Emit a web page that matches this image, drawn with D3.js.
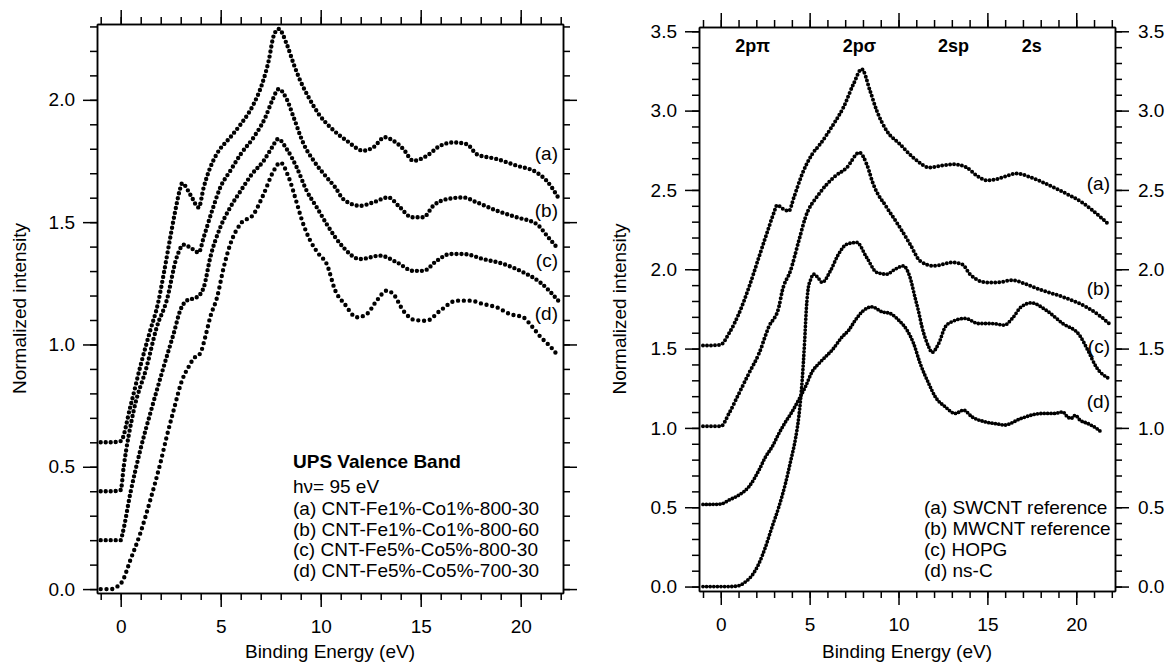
<!DOCTYPE html>
<html>
<head>
<meta charset="utf-8">
<script src="https://cdn.jsdelivr.net/npm/d3@7"></script>
<style>
  body { margin: 0; background: #fff; }
  text { font-family: "Liberation Sans", Arial, sans-serif; }
</style>
</head>
<body>
<div id="chart"></div>
<script>
// ---------- left panel : CNT-Fe/Co samples ----------
var energyL_a = [-1.0, -0.5, 0.0, 0.48, 0.98, 1.45, 1.87, 2.15, 2.48, 2.73, 2.95, 3.07, 3.5, 3.9, 4.15, 4.48, 4.8, 5.48, 6.0, 6.65, 7.07, 7.4, 7.65, 7.9, 8.3, 8.65, 8.98, 9.4, 9.9, 10.48, 11.3, 12.13, 12.63, 13.2, 13.63, 14.13, 14.63, 15.3, 15.97, 16.63, 17.3, 17.8, 18.8, 19.8, 20.8, 21.3, 21.88];
var intensityL_a = [0.6, 0.6, 0.605, 0.745, 0.91, 1.05, 1.17, 1.288, 1.438, 1.547, 1.63, 1.659, 1.61, 1.56, 1.642, 1.724, 1.778, 1.847, 1.90, 1.983, 2.065, 2.16, 2.262, 2.29, 2.228, 2.146, 2.078, 2.01, 1.942, 1.888, 1.833, 1.792, 1.806, 1.847, 1.833, 1.799, 1.751, 1.771, 1.812, 1.826, 1.819, 1.778, 1.758, 1.731, 1.703, 1.669, 1.60];

var energyL_b = [-1.0, -0.5, 0.0, 0.15, 0.65, 1.3, 1.8, 2.3, 2.8, 3.15, 3.5, 3.9, 4.15, 4.57, 4.98, 5.48, 6.0, 6.65, 7.23, 7.57, 7.9, 8.3, 8.65, 9.15, 9.65, 10.3, 10.73, 11.13, 11.97, 12.63, 13.38, 13.97, 14.55, 15.13, 15.63, 16.3, 17.13, 17.8, 18.8, 19.8, 20.8, 21.38, 21.88];
var intensityL_b = [0.4, 0.4, 0.405, 0.5, 0.73, 0.909, 1.07, 1.18, 1.356, 1.408, 1.395, 1.376, 1.438, 1.547, 1.642, 1.71, 1.778, 1.847, 1.928, 1.996, 2.044, 2.003, 1.928, 1.819, 1.751, 1.683, 1.642, 1.594, 1.567, 1.581, 1.601, 1.56, 1.52, 1.52, 1.567, 1.594, 1.601, 1.581, 1.547, 1.52, 1.492, 1.438, 1.39];

var energyL_c = [-1.0, -0.5, 0.0, 0.1, 0.48, 0.98, 1.57, 2.15, 2.65, 2.98, 3.3, 3.8, 4.15, 4.48, 4.98, 5.48, 6.0, 6.57, 7.15, 7.57, 7.87, 8.3, 8.8, 9.3, 9.8, 10.3, 10.73, 11.13, 11.97, 12.97, 13.8, 14.63, 15.13, 15.8, 16.47, 17.13, 18.13, 19.13, 20.13, 20.97, 21.88];
var intensityL_c = [0.2, 0.2, 0.2, 0.23, 0.391, 0.568, 0.745, 0.909, 1.045, 1.14, 1.179, 1.193, 1.233, 1.356, 1.479, 1.561, 1.628, 1.697, 1.751, 1.806, 1.84, 1.799, 1.724, 1.628, 1.561, 1.492, 1.438, 1.397, 1.349, 1.363, 1.336, 1.301, 1.301, 1.342, 1.37, 1.37, 1.349, 1.329, 1.295, 1.254, 1.179];

var energyL_d = [-1.0, -0.5, -0.18, 0.07, 0.48, 0.98, 1.48, 1.98, 2.3, 2.65, 3.07, 3.4, 3.65, 3.98, 4.23, 4.48, 4.82, 5.15, 5.48, 5.98, 6.65, 7.15, 7.65, 7.98, 8.4, 8.82, 9.07, 9.48, 9.9, 10.3, 10.73, 11.2, 11.8, 12.3, 12.8, 13.3, 13.63, 14.13, 14.7, 15.3, 15.97, 16.8, 17.47, 18.13, 18.8, 19.47, 20.13, 20.5, 21.0, 21.5, 21.9];
var intensityL_d = [0.0, 0.0, 0.01, 0.03, 0.118, 0.228, 0.364, 0.514, 0.623, 0.732, 0.854, 0.909, 0.943, 0.964, 1.031, 1.113, 1.193, 1.315, 1.41, 1.492, 1.533, 1.615, 1.71, 1.744, 1.683, 1.574, 1.506, 1.424, 1.37, 1.329, 1.22, 1.165, 1.111, 1.124, 1.179, 1.22, 1.206, 1.138, 1.10, 1.097, 1.138, 1.179, 1.179, 1.165, 1.152, 1.124, 1.111, 1.08, 1.03, 0.99, 0.95];

// ---------- right panel : carbon references ----------
var energyR_a = [-1.0, -0.5, 0.0, 0.46, 1.02, 1.58, 2.14, 2.7, 3.0, 3.17, 3.5, 3.83, 4.11, 4.58, 5.14, 5.6, 6.34, 6.9, 7.46, 7.93, 8.4, 8.78, 9.34, 10.08, 10.83, 11.77, 12.5, 13.08, 13.83, 14.4, 15.0, 15.52, 16.0, 16.66, 17.3, 18.06, 19.24, 20.42, 21.35, 21.87];
var intensityR_a = [1.52, 1.52, 1.525, 1.595, 1.72, 1.885, 2.074, 2.263, 2.36, 2.404, 2.38, 2.368, 2.452, 2.6, 2.725, 2.79, 2.914, 3.02, 3.166, 3.261, 3.124, 2.998, 2.872, 2.788, 2.704, 2.641, 2.655, 2.662, 2.641, 2.59, 2.56, 2.568, 2.585, 2.604, 2.585, 2.551, 2.488, 2.414, 2.33, 2.278];

var energyR_b = [-1.0, -0.5, 0.0, 0.46, 1.02, 1.58, 2.15, 2.7, 3.27, 3.46, 3.92, 4.39, 4.76, 5.52, 6.34, 7.09, 7.8, 8.21, 8.58, 9.34, 10.08, 10.65, 11.21, 11.96, 13.08, 13.6, 14.02, 14.96, 15.52, 16.43, 17.2, 18.06, 19.24, 20.87, 21.4, 21.94];
var intensityR_b = [1.01, 1.01, 1.01, 1.091, 1.217, 1.343, 1.469, 1.637, 1.763, 1.864, 1.99, 2.179, 2.326, 2.473, 2.578, 2.641, 2.736, 2.662, 2.536, 2.389, 2.263, 2.158, 2.053, 2.021, 2.043, 2.03, 1.969, 1.917, 1.917, 1.931, 1.905, 1.868, 1.826, 1.742, 1.70, 1.648];

var energyR_c = [-1.0, -0.5, 0.0, 0.5, 1.0, 1.39, 1.77, 2.15, 2.52, 2.89, 3.27, 3.64, 3.95, 4.2, 4.4, 4.58, 4.72, 4.82, 4.92, 5.04, 5.23, 5.45, 5.7, 6.17, 6.6, 7.09, 7.65, 8.21, 8.78, 9.34, 9.8, 10.27, 10.65, 10.93, 11.12, 11.32, 11.7, 11.88, 12.26, 12.63, 13.0, 13.75, 14.5, 15.25, 15.96, 16.4, 16.9, 17.48, 18.3, 19.24, 20.18, 20.65, 21.12, 21.83];
var intensityR_c = [0, 0, 0, 0, 0.005, 0.03, 0.072, 0.146, 0.251, 0.377, 0.503, 0.65, 0.80, 0.93, 1.08, 1.30, 1.55, 1.76, 1.88, 1.93, 1.969, 1.95, 1.917, 1.99, 2.09, 2.158, 2.169, 2.074, 1.98, 1.969, 2.0, 2.021, 1.948, 1.822, 1.738, 1.637, 1.511, 1.476, 1.532, 1.637, 1.669, 1.69, 1.658, 1.658, 1.648, 1.69, 1.763, 1.788, 1.742, 1.658, 1.585, 1.49, 1.385, 1.312];

var energyR_d = [-1.0, -0.5, 0.0, 0.46, 1.02, 1.58, 2.15, 2.52, 2.89, 3.27, 3.6, 4.0, 4.4, 4.76, 5.14, 5.52, 5.89, 6.26, 6.83, 7.2, 7.57, 7.95, 8.51, 9.07, 9.54, 10.01, 10.48, 10.85, 11.22, 11.7, 12.07, 12.63, 13.19, 13.66, 14.13, 14.88, 15.63, 15.96, 16.9, 18.06, 18.78, 19.24, 19.5, 19.71, 19.95, 20.2, 20.65, 21.1, 21.47];
var intensityR_d = [0.518, 0.518, 0.52, 0.545, 0.577, 0.629, 0.734, 0.818, 0.881, 0.965, 1.03, 1.10, 1.18, 1.259, 1.354, 1.406, 1.448, 1.49, 1.574, 1.616, 1.679, 1.732, 1.763, 1.732, 1.721, 1.679, 1.616, 1.532, 1.406, 1.28, 1.196, 1.133, 1.091, 1.112, 1.07, 1.038, 1.024, 1.018, 1.06, 1.091, 1.091, 1.101, 1.07, 1.06, 1.08, 1.05, 1.028, 1.0, 0.969];

// ---------- labels ----------
var curveTags = ["(a)", "(b)", "(c)", "(d)"];
var tagLevelL = [1.756, 1.523, 1.316, 1.10];
var tagLevelR = [2.498, 1.837, 1.471, 1.125];
var legendTitleL = "UPS Valence Band";
var legendSubL = "h\u03bd= 95 eV";
var legendL = ["(a) CNT-Fe1%-Co1%-800-30", "(b) CNT-Fe1%-Co1%-800-60", "(c) CNT-Fe5%-Co5%-800-30", "(d) CNT-Fe5%-Co5%-700-30"];
var legendR = ["(a) SWCNT reference", "(b) MWCNT reference", "(c) HOPG", "(d) ns-C"];
var peakNames = ["2p\u03c0", "2p\u03c3", "2sp", "2s"];
var peakEnergy = [1.8, 7.8, 13.1, 17.5];
var xMajor = [0, 5, 10, 15, 20];
var yMajorL = [0, 0.5, 1.0, 1.5, 2.0];
var yMajorR = [0, 0.5, 1.0, 1.5, 2.0, 2.5, 3.0, 3.5];

var W = 1175, H = 664;
var svg = d3.select("#chart")
  .append("svg")
    .attr("width", W)
    .attr("height", H);

var fontSize = "19px";

function styleAxis(g) {
  g.attr("font-family", null).attr("font-size", null);
  g.selectAll("path, line").attr("stroke", "#000").attr("stroke-width", 1.5);
  g.selectAll("text").attr("fill", "#000").style("font-size", fontSize);
}

// one side of the frame: minor ticks + major ticks (optionally labelled)
function addSide(axisFn, scale, tx, ty, minorVals, majorVals, fmt, pad) {
  svg.append("g")
      .attr("transform", "translate(" + tx + "," + ty + ")")
      .call(axisFn(scale).tickValues(minorVals).tickSize(7).tickSizeOuter(0).tickFormat(""))
      .call(styleAxis);
  svg.append("g")
      .attr("transform", "translate(" + tx + "," + ty + ")")
      .call(axisFn(scale).tickValues(majorVals).tickSize(14).tickSizeOuter(0)
            .tickPadding(pad).tickFormat(fmt || ""))
      .call(styleAxis);
}

function drawPanel(p) {
  var x = d3.scaleLinear().domain(p.xDomain).range([p.left, p.right]);
  var y = d3.scaleLinear().domain(p.yDomain).range([p.bottom, p.top]);

  var xMinor = d3.range(-1, 23);
  var yMinor = d3.range(0, Math.round(p.yDomain[1] * 10) + 1).map(function(i) { return i / 10; });
  var f1 = d3.format(".1f");

  addSide(d3.axisBottom, x, 0, p.bottom, xMinor, xMajor, d3.format("d"), 13);
  addSide(d3.axisTop, x, 0, p.top, xMinor, xMajor, null, 3);
  addSide(d3.axisLeft, y, p.left, 0, yMinor, p.yMajor, f1, 8);
  addSide(d3.axisRight, y, p.right, 0, yMinor, p.yMajor, p.rightLabels ? f1 : null, 9);

  // axis titles
  svg.append("text")
      .attr("x", (p.left + p.right) / 2)
      .attr("y", 658)
      .attr("text-anchor", "middle")
      .style("font-size", fontSize)
      .text("Binding Energy (eV)");
  svg.append("text")
      .attr("transform", "translate(" + p.yTitleX + "," + ((p.top + p.bottom) / 2) + ") rotate(-90)")
      .attr("text-anchor", "middle")
      .style("font-size", fontSize)
      .text("Normalized intensity");

  // clip + curves
  var clipId = "clip" + p.id;
  svg.append("clipPath").attr("id", clipId)
    .append("rect")
      .attr("x", p.left).attr("y", p.top)
      .attr("width", p.right - p.left).attr("height", p.bottom - p.top);

  var line = d3.line()
      .x(function(d) { return x(d[0]); })
      .y(function(d) { return y(d[1]); })
      .curve(d3.curveMonotoneX);

  svg.append("g")
      .attr("clip-path", "url(#" + clipId + ")")
    .selectAll("path")
    .data(p.series)
    .enter()
    .append("path")
      .attr("d", function(s) { return line(d3.zip(s.e, s.v)); })
      .attr("fill", "none")
      .attr("stroke", "#000")
      .attr("stroke-width", function(s) { return s.w; })
      .attr("stroke-linecap", "round")
      .attr("stroke-dasharray", function(s) { return "0 " + s.gap; });

  // curve tags (a)..(d) at the right end
  svg.append("g")
    .selectAll("text")
    .data(p.tagLevels)
    .enter()
    .append("text")
      .attr("x", p.right - 5)
      .attr("y", function(d) { return y(d); })
      .attr("text-anchor", "end")
      .style("font-size", fontSize)
      .text(function(d, i) { return curveTags[i]; });

  return {x: x, y: y};
}

// left panel
var L = drawPanel({
  id: "L",
  left: 97, right: 563, top: 24, bottom: 593,
  xDomain: [-1.185, 22.115], yDomain: [-0.016, 2.31],
  yMajor: yMajorL, rightLabels: false, yTitleX: 26,
  tagLevels: tagLevelL,
  series: [
    {e: energyL_a, v: intensityL_a, w: 4.4, gap: 5.0},
    {e: energyL_b, v: intensityL_b, w: 4.4, gap: 5.0},
    {e: energyL_c, v: intensityL_c, w: 4.4, gap: 5.0},
    {e: energyL_d, v: intensityL_d, w: 4.4, gap: 5.8}
  ]
});

// right panel
var R = drawPanel({
  id: "R",
  left: 699, right: 1115, top: 27, bottom: 591,
  xDomain: [-1.225, 22.18], yDomain: [-0.028, 3.527],
  yMajor: yMajorR, rightLabels: true, yTitleX: 626,
  tagLevels: tagLevelR,
  series: [
    {e: energyR_a, v: intensityR_a, w: 4.0, gap: 4.0},
    {e: energyR_b, v: intensityR_b, w: 4.0, gap: 4.0},
    {e: energyR_c, v: intensityR_c, w: 3.8, gap: 3.6},
    {e: energyR_d, v: intensityR_d, w: 3.8, gap: 3.4}
  ]
});

// left legend block
var legL = svg.append("g").attr("transform", "translate(293,0)");
legL.append("text")
    .attr("y", 468)
    .style("font-size", fontSize)
    .style("font-weight", "bold")
    .text(legendTitleL);
legL.append("text")
    .attr("y", 493)
    .style("font-size", fontSize)
    .text(legendSubL);
legL.selectAll("text.item")
    .data(legendL)
    .enter()
    .append("text")
      .attr("class", "item")
      .attr("y", function(d, i) { return 515 + i * 20.6; })
      .style("font-size", fontSize)
      .text(function(d) { return d; });

// right legend block
svg.append("g")
    .attr("transform", "translate(924,0)")
  .selectAll("text")
  .data(legendR)
  .enter()
  .append("text")
    .attr("y", function(d, i) { return 513.5 + i * 21.3; })
    .style("font-size", fontSize)
    .text(function(d) { return d; });

// peak names along the top of the right panel
svg.append("g")
  .selectAll("text")
  .data(peakNames)
  .enter()
  .append("text")
    .attr("x", function(d, i) { return R.x(peakEnergy[i]); })
    .attr("y", 52)
    .attr("text-anchor", "middle")
    .style("font-size", "18px")
    .style("font-weight", "bold")
    .text(function(d) { return d; });
</script>
</body>
</html>
